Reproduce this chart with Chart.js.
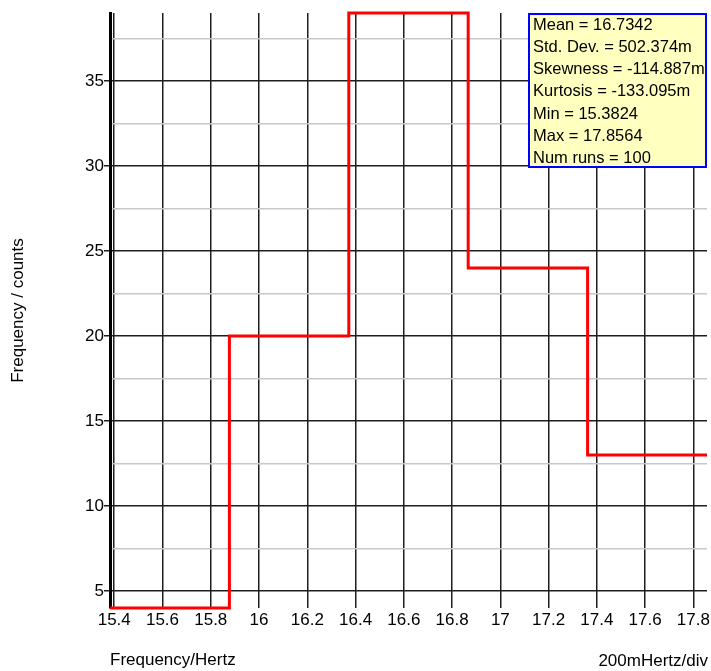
<!DOCTYPE html>
<html><head><meta charset="utf-8">
<script src="https://cdn.jsdelivr.net/npm/chart.js@4/dist/chart.umd.min.js"></script>
<style>html,body{margin:0;padding:0;background:#fff;}#wrap{position:relative;width:711px;height:671px;}</style>
</head><body><div id="wrap"><canvas id="c" width="711" height="671"></canvas></div>
<script>
// ---- data ----
const binEdges = [15.3824, 15.8772, 16.372, 16.8668, 17.3616, 17.8564];
const binCounts = [4, 20, 39, 24, 13];
const xTickValues = [15.4, 15.6, 15.8, 16, 16.2, 16.4, 16.6, 16.8, 17, 17.2, 17.4, 17.6, 17.8];
const xTickLabels = ["15.4", "15.6", "15.8", "16", "16.2", "16.4", "16.6", "16.8", "17", "17.2", "17.4", "17.6", "17.8"];
const yMajorTicks = [5, 10, 15, 20, 25, 30, 35];
const yMajorLabels = ["5", "10", "15", "20", "25", "30", "35"];
const yMinorTicks = [7.5, 12.5, 17.5, 22.5, 27.5, 32.5, 37.5];
const statLines = ["Mean = 16.7342", "Std. Dev. = 502.374m", "Skewness = -114.887m", "Kurtosis = -133.095m", "Min = 15.3824", "Max = 17.8564", "Num runs = 100"];
const xTitle = "Frequency/Hertz";
const xScaleNote = "200mHertz/div";
const yTitle = "Frequency / counts";

const FONT = '"Liberation Sans", Arial, sans-serif';
const points = binEdges.map((x, i) => ({ x: x, y: binCounts[Math.min(i, binCounts.length - 1)] }));
const isMajorY = v => yMajorTicks.indexOf(v) !== -1;

const overlay = {
  id: 'overlay',
  afterDraw(chart) {
    const ctx = chart.ctx, a = chart.chartArea;
    ctx.save();
    // right side x-axis note
    ctx.font = '17px ' + FONT;
    ctx.fillStyle = '#000';
    ctx.textAlign = 'right';
    ctx.textBaseline = 'middle';
    ctx.fillText(xScaleNote, a.right + 1, 661);
    // statistics box
    const w = 179, h = 155;
    const bx = a.right - w, by = 13;
    ctx.fillStyle = '#ffffc0';
    ctx.fillRect(bx, by, w, h);
    ctx.strokeStyle = '#0000ff';
    ctx.lineWidth = 2;
    ctx.strokeRect(bx + 1, by + 1, w - 2, h - 2);
    ctx.fillStyle = '#000';
    ctx.textAlign = 'left';
    ctx.font = '16.5px ' + FONT;
    statLines.forEach((t, i) => ctx.fillText(t, bx + 5, by + 12 + i * 22.3));
    ctx.restore();
  }
};

new Chart(document.getElementById('c'), {
  type: 'line',
  data: {
    datasets: [{
      data: points,
      borderColor: '#ff0000',
      borderWidth: 3,
      stepped: true,
      pointRadius: 0,
      fill: false,
      clip: 6
    }]
  },
  options: {
    responsive: false,
    animation: false,
    devicePixelRatio: 1,
    layout: { padding: { top: 13, right: 4, bottom: 0, left: 0 } },
    plugins: { legend: { display: false }, tooltip: { enabled: false } },
    scales: {
      x: {
        type: 'linear',
        min: binEdges[0],
        max: binEdges[binEdges.length - 1],
        afterBuildTicks: s => { s.ticks = xTickValues.map(v => ({ value: v })); },
        afterFit: s => { s.height = 63; s.paddingLeft = 0; s.paddingRight = 0; },
        grid: { color: '#1e1e1e', lineWidth: 1.5, drawTicks: false },
        border: { display: false },
        ticks: {
          autoSkip: false, maxRotation: 0, padding: 2, color: '#000',
          font: { family: FONT, size: 17 },
          callback: (v, i) => xTickLabels[i]
        },
        title: { display: true, text: xTitle, align: 'start', color: '#000', font: { family: FONT, size: 17 }, padding: 0 }
      },
      y: {
        type: 'linear',
        min: 4,
        max: 39,
        afterBuildTicks: s => { s.ticks = yMajorTicks.concat(yMinorTicks).sort((a, b) => a - b).map(v => ({ value: v })); },
        afterFit: s => { s.width = 110; s.paddingTop = 0; s.paddingBottom = 0; },
        grid: {
          color: c => (c.tick && isMajorY(c.tick.value)) ? '#1e1e1e' : '#c8c8c8',
          tickColor: c => (c.tick && isMajorY(c.tick.value)) ? '#1e1e1e' : 'rgba(0,0,0,0)',
          lineWidth: 1.5,
          tickLength: 6
        },
        border: { display: true, color: '#000', width: 3 },
        ticks: {
          autoSkip: false, padding: 0, color: '#000',
          font: { family: FONT, size: 17 },
          callback: v => { const k = yMajorTicks.indexOf(v); return k === -1 ? '' : yMajorLabels[k]; }
        },
        title: { display: true, text: yTitle, color: '#000', font: { family: FONT, size: 17 }, padding: { top: 8, bottom: 0 } }
      }
    }
  },
  plugins: [overlay]
});
</script>
</body></html>
